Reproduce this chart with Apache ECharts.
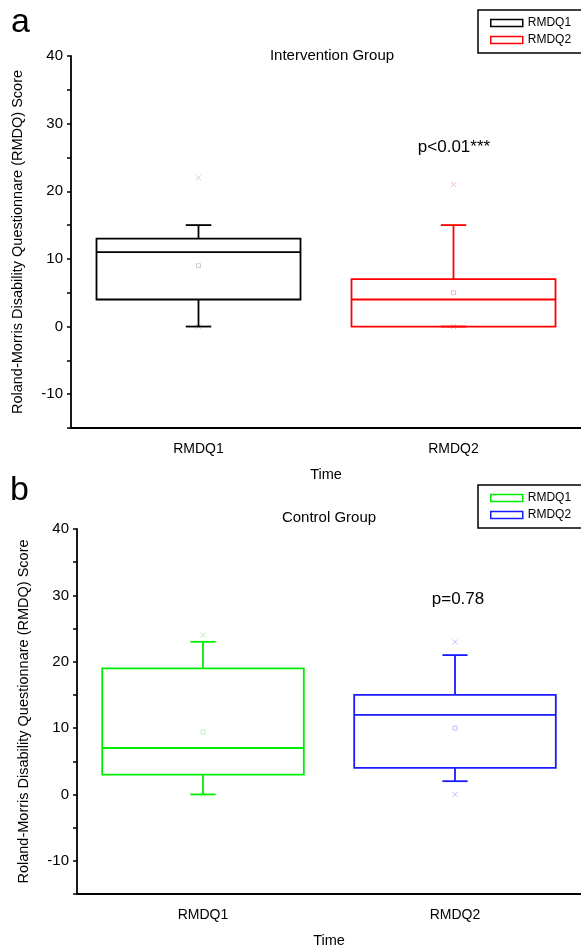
<!DOCTYPE html>
<html>
<head>
<meta charset="utf-8">
<script src="https://cdn.jsdelivr.net/npm/echarts@6/dist/echarts.min.js"></script>
<style>
html,body{margin:0;padding:0;background:#fff;}
#chart{width:581px;height:949px;}
</style>
</head>
<body>
<div id="chart"></div>
<script>
// ---- data ----
const categories = ['RMDQ1', 'RMDQ2'];
const yTickLabels = [-10, 0, 10, 20, 30, 40];
// [lower whisker, Q1, median, Q3, upper whisker]
const interventionRMDQ1 = [0, 4, 11, 13, 15];
const interventionRMDQ2 = [0, 0, 4, 7, 15];
const interventionMeans = [9, 5];
const interventionMin = [0, 0];
const interventionMax = [22, 21];
const controlRMDQ1 = [0, 3, 7, 19, 23];
const controlRMDQ2 = [2, 4, 12, 15, 21];
const controlMeans = [9.4, 10];
const controlMin = [0, 0];
const controlMax = [24, 23];
const pValues = ['p<0.01***', 'p=0.78'];

const FONT = 'Liberation Sans, Arial, sans-serif';

function row(idx, box, means, mins, maxs) {
  return [idx].concat(box, [means[idx], mins[idx], maxs[idx]]);
}

function makeRender(color, faded) {
  return function (params, api) {
    const xi = api.value(0);
    const c = v => api.coord([xi, v]);
    const band = api.size([1, 0])[0];
    const hb = band * 0.4, hc = band * 0.05;
    const pLo = c(api.value(1)), pQ1 = c(api.value(2)), pMed = c(api.value(3)),
          pQ3 = c(api.value(4)), pHi = c(api.value(5)), pMean = c(api.value(6)),
          pMin = c(api.value(7)), pMax = c(api.value(8));
    const cx = pLo[0];
    const ls = { stroke: color, lineWidth: 1.8, fill: null };
    const ms = { stroke: faded, lineWidth: 0.9, fill: null };
    const xMark = p => [
      { type: 'line', shape: { x1: cx - 2.5, y1: p[1] - 2.5, x2: cx + 2.5, y2: p[1] + 2.5 }, style: ms },
      { type: 'line', shape: { x1: cx - 2.5, y1: p[1] + 2.5, x2: cx + 2.5, y2: p[1] - 2.5 }, style: ms }
    ];
    const children = [].concat(
      xMark(pMin), xMark(pMax),
      [{ type: 'rect', shape: { x: cx - 2, y: pMean[1] - 2, width: 4, height: 4 }, style: ms },
       { type: 'line', shape: { x1: cx, y1: pQ3[1], x2: cx, y2: pHi[1] }, style: ls },
       { type: 'line', shape: { x1: cx - hc, y1: pHi[1], x2: cx + hc, y2: pHi[1] }, style: ls },
       { type: 'line', shape: { x1: cx, y1: pQ1[1], x2: cx, y2: pLo[1] }, style: ls },
       { type: 'line', shape: { x1: cx - hc, y1: pLo[1], x2: cx + hc, y2: pLo[1] }, style: ls },
       { type: 'rect', shape: { x: cx - hb, y: pQ3[1], width: 2 * hb, height: pQ1[1] - pQ3[1] }, style: ls },
       { type: 'line', shape: { x1: cx - hb, y1: pMed[1], x2: cx + hb, y2: pMed[1] }, style: ls }]
    );
    return { type: 'group', children: children };
  };
}

function xAxisCfg(gi) {
  return {
    gridIndex: gi, type: 'category', data: categories,
    axisLine: { onZero: false, lineStyle: { color: '#000', width: 1.8 } },
    axisTick: { alignWithLabel: true, length: 7, lineStyle: { color: '#000', width: 1.5 } },
    axisLabel: { color: '#000', fontSize: 14, margin: 14, fontFamily: FONT },
    splitLine: { show: false },
    name: 'Time', nameLocation: 'middle', nameGap: 39,
    nameTextStyle: { color: '#000', fontSize: 14.5, fontFamily: FONT }
  };
}
function yAxisCfg(gi) {
  return {
    gridIndex: gi, type: 'value', min: -15, max: 40, interval: 5,
    axisLine: { show: true, onZero: false, lineStyle: { color: '#000', width: 1.8 } },
    axisTick: { show: true, length: 4, lineStyle: { color: '#000', width: 1.5 } },
    axisLabel: {
      color: '#000', fontSize: 15, margin: 8, fontFamily: FONT,
      formatter: v => (yTickLabels.indexOf(v) >= 0 ? String(v) : '')
    },
    splitLine: { show: false },
    name: 'Roland-Morris Disability Questionnare (RMDQ) Score',
    nameLocation: 'middle', nameGap: 46,
    nameTextStyle: { color: '#000', fontSize: 14.5, fontFamily: FONT }
  };
}
function legendCfg(top, c1, c2) {
  return {
    left: 478, top: top, orient: 'vertical', icon: 'rect',
    itemWidth: 32, itemHeight: 7, itemGap: 5, selectedMode: false,
    padding: [7, 20, 7, 12], borderColor: '#000', borderWidth: 1.5,
    textStyle: { color: '#000', fontSize: 12, fontFamily: FONT },
    data: [
      { name: categories[0], itemStyle: { color: '#fff', borderColor: c1, borderWidth: 1.5 } },
      { name: categories[1], itemStyle: { color: '#fff', borderColor: c2, borderWidth: 1.5 } }
    ]
  };
}
function boxSeries(name, gi, color, faded, dataRow) {
  return {
    type: 'custom', name: name, xAxisIndex: gi, yAxisIndex: gi,
    renderItem: makeRender(color, faded),
    itemStyle: { color: color },
    encode: { x: 0, y: [1, 2, 3, 4, 5, 6, 7, 8] },
    data: [dataRow], silent: true
  };
}

const chart = echarts.init(document.getElementById('chart'), null, { renderer: 'canvas' });
chart.setOption({
  animation: false,
  backgroundColor: '#fff',
  textStyle: { fontFamily: FONT },
  title: [
    { text: 'Intervention Group', left: 332, top: 48, textAlign: 'center', padding: 0,
      textStyle: { fontSize: 15, fontWeight: 'normal', color: '#000' } },
    { text: 'Control Group', left: 329, top: 510, textAlign: 'center', padding: 0,
      textStyle: { fontSize: 15, fontWeight: 'normal', color: '#000' } }
  ],
  graphic: [
    { type: 'text', x: 11, y: 23, style: { text: 'a', fontSize: 34, fontFamily: FONT, fill: '#000', verticalAlign: 'middle' } },
    { type: 'text', x: 10, y: 491, style: { text: 'b', fontSize: 34, fontFamily: FONT, fill: '#000', verticalAlign: 'middle' } },
    { type: 'text', x: 454, y: 147, style: { text: pValues[0], fontSize: 17, fontFamily: FONT, fill: '#000', align: 'center', verticalAlign: 'middle' } },
    { type: 'text', x: 458, y: 599, style: { text: pValues[1], fontSize: 17, fontFamily: FONT, fill: '#000', align: 'center', verticalAlign: 'middle' } }
  ],
  legend: [legendCfg(10, '#000', '#ff0000'), legendCfg(485, '#00ee00', '#1a1aff')],
  grid: [
    { left: 71, top: 56, right: 0, height: 372 },
    { left: 77, top: 529, right: 0, height: 368 }
  ],
  xAxis: [xAxisCfg(0), xAxisCfg(1)],
  yAxis: [yAxisCfg(0), yAxisCfg(1)],
  series: [
    boxSeries('RMDQ1', 0, '#000000', '#d0c4cc', row(0, interventionRMDQ1, interventionMeans, interventionMin, interventionMax)),
    boxSeries('RMDQ2', 0, '#ff0000', '#ffb0b0', row(1, interventionRMDQ2, interventionMeans, interventionMin, interventionMax)),
    boxSeries('RMDQ1', 1, '#00ee00', '#b0f0b0', row(0, controlRMDQ1, controlMeans, controlMin, controlMax)),
    boxSeries('RMDQ2', 1, '#1a1aff', '#b8b8ff', row(1, controlRMDQ2, controlMeans, controlMin, controlMax))
  ]
});
</script>
</body>
</html>
